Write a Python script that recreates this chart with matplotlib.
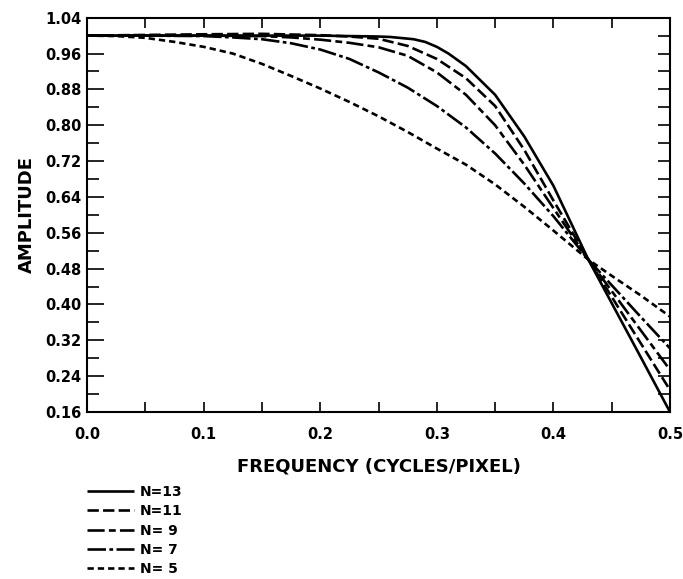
import matplotlib
matplotlib.use("Agg")
import matplotlib.pyplot as plt
from matplotlib.ticker import FixedLocator, MultipleLocator

plt.rcParams['font.family'] = ['DejaVu Sans']
plt.rcParams['font.weight'] = 'bold'

# ---- data ----
f13 = [0.0, 0.1, 0.2, 0.25, 0.26, 0.28, 0.29, 0.3, 0.31, 0.325, 0.35, 0.375, 0.4, 0.43, 0.45, 0.475, 0.5]
a13 = [1.0, 1.0, 1.0, 0.998, 0.997, 0.992, 0.986, 0.975, 0.960, 0.932, 0.868, 0.775, 0.665, 0.5, 0.403, 0.282, 0.16]

f11 = [0.0, 0.1, 0.15, 0.2, 0.225, 0.25, 0.275, 0.3, 0.325, 0.35, 0.375, 0.4, 0.43, 0.45, 0.475, 0.5]
a11 = [1.0, 1.003, 1.004, 1.001, 0.998, 0.993, 0.977, 0.948, 0.905, 0.843, 0.745, 0.632, 0.5, 0.417, 0.313, 0.209]

f9 = [0.0, 0.1, 0.15, 0.175, 0.2, 0.225, 0.25, 0.275, 0.3, 0.325, 0.35, 0.375, 0.4, 0.43, 0.45, 0.475, 0.5]
a9 = [1.0, 1.0, 0.999, 0.996, 0.991, 0.984, 0.974, 0.955, 0.918, 0.868, 0.800, 0.712, 0.615, 0.5, 0.43, 0.342, 0.254]

f7 = [0.0, 0.05, 0.1, 0.125, 0.15, 0.175, 0.2, 0.225, 0.25, 0.275, 0.3, 0.325, 0.35, 0.375, 0.4, 0.43, 0.45, 0.475, 0.5]
a7 = [1.0, 1.0, 0.999, 0.996, 0.992, 0.983, 0.969, 0.948, 0.918, 0.884, 0.843, 0.795, 0.737, 0.670, 0.597, 0.5, 0.443, 0.372, 0.302]

f5 = [0.0, 0.025, 0.05, 0.075, 0.1, 0.125, 0.15, 0.175, 0.2, 0.225, 0.25, 0.275, 0.3, 0.325, 0.35, 0.375, 0.4, 0.43, 0.45, 0.475, 0.5]
a5 = [1.0, 0.999, 0.995, 0.986, 0.975, 0.960, 0.937, 0.910, 0.882, 0.852, 0.820, 0.785, 0.748, 0.712, 0.668, 0.618, 0.565, 0.5, 0.464, 0.42, 0.373]

labels = ["N=13", "N=11", "N= 9", "N= 7", "N= 5"]
x_tick_labels = ["0.0", "0.1", "0.2", "0.3", "0.4", "0.5"]
y_tick_labels = ["0.16", "0.24", "0.32", "0.40", "0.48", "0.56", "0.64",
                 "0.72", "0.80", "0.88", "0.96", "1.04"]

# ---- figure ----
fig = plt.figure(figsize=(6.83, 5.79), dpi=100)
ax = fig.add_axes([87/683, 1-412/579, (670-87)/683, (412-17.7)/579])

lw = 1.9
styles = [
    '-',
    (0, (4.3, 1.6)),
    (0, (6.5, 1.6, 2.6, 1.6)),
    (0, (7.0, 1.3, 1.4, 1.3)),
    (0, (2.4, 1.5)),
]
series = [(f13, a13), (f11, a11), (f9, a9), (f7, a7), (f5, a5)]
for (fx, ay), ls, lab in zip(series, styles, labels):
    ax.plot(fx, ay, color='black', lw=lw, linestyle=ls, label=lab,
            solid_capstyle='butt', dash_capstyle='butt', solid_joinstyle='round')

ax.set_xlim(0.0, 0.5)
ax.set_ylim(0.16, 1.04)

xt = [float(s) for s in x_tick_labels]
yt = [float(s) for s in y_tick_labels]
ax.xaxis.set_major_locator(FixedLocator(xt))
ax.set_xticklabels(x_tick_labels)
ax.xaxis.set_minor_locator(MultipleLocator(0.05))
ax.yaxis.set_major_locator(FixedLocator(yt))
ax.set_yticklabels(y_tick_labels)
ax.yaxis.set_minor_locator(MultipleLocator(0.04))

for s in ax.spines.values():
    s.set_linewidth(1.5)

ax.tick_params(axis='x', which='both', direction='in', top=True, bottom=True,
               length=7.5, width=1.2, labelsize=10.5, pad=11)
ax.tick_params(axis='y', which='major', direction='in', left=True, right=False,
               length=12, width=1.2, labelsize=10.5, pad=4)
ax.tick_params(axis='y', which='minor', direction='in', left=True, right=False,
               length=8.5, width=1.2)

ax2 = ax.twinx()
ax2.set_ylim(0.16, 1.04)
ax2.yaxis.set_major_locator(MultipleLocator(0.04))
ax2.yaxis.set_minor_locator(FixedLocator([]))
ax2.tick_params(axis='y', which='both', direction='in', length=8.5, width=1.2,
                labelright=False)
for s in ax2.spines.values():
    s.set_visible(False)

ax.set_xlabel("FREQUENCY (CYCLES/PIXEL)", fontsize=13, fontweight='bold', labelpad=11)
ax.set_ylabel("AMPLITUDE", fontsize=13, fontweight='bold')
ax.yaxis.set_label_coords(-0.087, 0.5)

leg = ax.legend(loc='upper left', bbox_to_anchor=(87/683, 1-485/579),
                bbox_transform=fig.transFigure, frameon=False, fontsize=10,
                handlelength=3.4, handletextpad=0.4, labelspacing=0.38,
                borderaxespad=0, borderpad=0)
for t in leg.get_texts():
    t.set_fontweight('bold')

fig.savefig("out.png", dpi=100)
